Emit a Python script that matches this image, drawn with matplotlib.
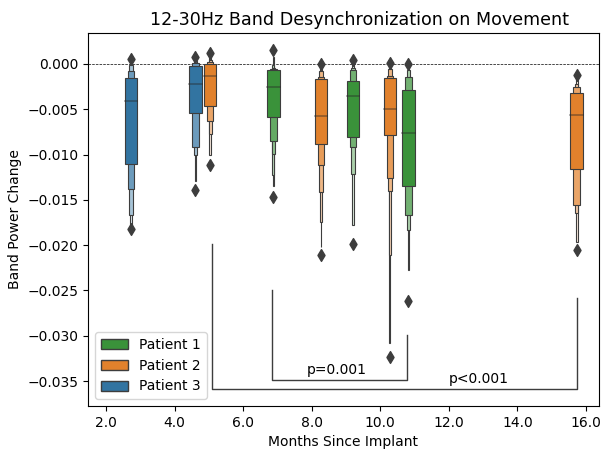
import numpy as np
import matplotlib
matplotlib.use("Agg")
import matplotlib.pyplot as plt
from matplotlib.patches import Rectangle, Patch

# one entry per recording session (letter-value summaries)
months = [2.73, 4.61, 5.04, 6.88, 8.27, 9.20, 10.28, 10.82, 15.73]
patient = [3, 3, 2, 1, 2, 1, 2, 1, 2]
medians = [-0.0041, -0.0022, -0.0013, -0.0025, -0.0057, -0.0035, -0.0050, -0.0076, -0.0056]
# lower / upper ends of each nested box, innermost (IQR) first
lows = [
    [-0.0110, -0.0138, -0.0167, -0.0178],
    [-0.0054, -0.0092, -0.0101, -0.0129],
    [-0.0046, -0.0063, -0.0077, -0.0101],
    [-0.0058, -0.0085, -0.0099, -0.0123, -0.0135],
    [-0.0088, -0.0111, -0.0141, -0.0174, -0.0202],
    [-0.0081, -0.0092, -0.0121, -0.0178],
    [-0.0078, -0.0126, -0.0140, -0.0211, -0.0308],
    [-0.0135, -0.0167, -0.0183, -0.0227],
    [-0.0116, -0.0156, -0.0165, -0.0196],
]
highs = [
    [-0.0015, -0.0008, -0.0001, 0.0003],
    [-0.0002, 0.0001, 0.0003, 0.0005],
    [0.0000, 0.0002, 0.0004, 0.0008],
    [-0.0007, -0.0005, -0.0004, -0.0001, 0.0008],
    [-0.0017, -0.0014, -0.0008, -0.0004, -0.0001],
    [-0.0019, -0.0007, -0.0004, 0.0000],
    [-0.0015, -0.0013, -0.0005, -0.0003, -0.0001],
    [-0.0029, -0.0014, -0.0007, -0.0003],
    [-0.0032, -0.0025, -0.0022, -0.0016],
]
outliers = [
    [0.0006, -0.0182],
    [0.0008, -0.0139],
    [0.0012, -0.0112],
    [0.0015, -0.0147],
    [0.0000, -0.0211],
    [0.0004, -0.0199],
    [0.0001, -0.0324],
    [0.0000, -0.0262],
    [-0.0012, -0.0205],
]

# significance brackets: x left, x right, top left, top right, bottom, label, label x
brackets = [
    (6.84, 10.78, -0.0250, -0.0299, -0.0349, "p=0.001", 7.85),
    (5.09, 15.73, -0.0199, -0.0258, -0.0359, "p<0.001", 12.0),
]

patient_names = ["Patient 1", "Patient 2", "Patient 3"]
colors = {1: "#3a923a", 2: "#e1812c", 3: "#3274a1"}
gray = "#3d3d3d"
box_w = 0.365

fig = plt.figure(figsize=(6.01, 4.49), dpi=100)
ax = fig.add_axes([88 / 601, 1 - 406 / 449, 511 / 601, 373 / 449])

ax.axhline(0, color="k", ls="--", lw=0.5, zorder=1)

for x, p, med, lo, hi, out in zip(months, patient, medians, lows, highs, outliers):
    base = np.array(matplotlib.colors.to_rgb(colors[p]))
    k = len(lo)
    # draw outermost first so inner boxes sit on top
    for i in reversed(range(k)):
        t = i / (k - 1) * 0.85
        fc = base + (1 - base) * t
        w = box_w * 0.52 ** i
        ax.add_patch(Rectangle((x - w / 2, lo[i]), w, hi[i] - lo[i],
                               facecolor=fc, edgecolor=gray, lw=0.8, zorder=2))
    ax.plot([x - box_w / 2, x + box_w / 2], [med, med], color=".15", alpha=.45,
            lw=1.2, zorder=3)
    ax.scatter([x] * len(out), out, marker="d", c=gray, s=36, zorder=3)

for xl, xr, tl, tr, yb, lab, xt in brackets:
    ax.plot([xl, xl, xr, xr], [tl, yb, yb, tr], color=gray, lw=1, zorder=1)
    ax.text(xt, yb + 0.0003, lab, fontsize=10, ha="left", va="bottom")

ax.set_xlim(1.475, 16.38)
ax.set_ylim(-0.03776, 0.00342)
ticks = [2, 4, 6, 8, 10, 12, 14, 16]
ax.set_xticks(ticks)
ax.set_xticklabels([f"{t:.1f}" for t in ticks])
ax.set_yticks(np.arange(-0.035, 0.0001, 0.005))

ax.set_title("12-30Hz Band Desynchronization on Movement", fontsize=12.6, x=0.532)
ax.set_xlabel("Months Since Implant")
ax.set_ylabel("Band Power Change")

handles = [Patch(facecolor=colors[i + 1], edgecolor=gray, label=n)
           for i, n in enumerate(patient_names)]
ax.legend(handles=handles, loc="lower left")

fig.savefig("out.png", dpi=100)
